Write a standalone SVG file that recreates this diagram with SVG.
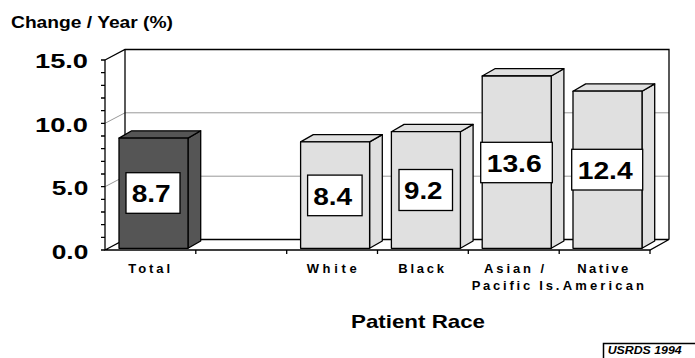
<svg xmlns="http://www.w3.org/2000/svg" width="695" height="358" viewBox="0 0 695 358">
<style>
text{font-family:"Liberation Sans",Arial,sans-serif;font-weight:bold;fill:#000}
.ax{stroke:#000;stroke-width:1.3;fill:none}
.grid{stroke:#999;stroke-width:1;fill:none}
.dk{fill:#555;stroke:#000;stroke-width:1.3;stroke-linejoin:round}
.lt{fill:#e0e0e0;stroke:#000;stroke-width:1.3;stroke-linejoin:round}
.box{fill:#fff;stroke:#000;stroke-width:1.3}
.val{font-size:24px}
.yl{font-size:21px}
.cat{font-size:13px}
</style>
<rect width="695" height="358" fill="#fff"/>
<text x="11" y="27.7" font-size="16" textLength="162" lengthAdjust="spacingAndGlyphs">Change / Year (%)</text>
<g id="axes">
<polygon points="105,250 125,239.5 669,239.5 650,250" fill="#fff" stroke="none"/>
<line class="grid" x1="105" y1="123.3" x2="125" y2="112.8"/>
<line class="grid" x1="125" y1="112.8" x2="669" y2="112.8"/>
<line class="grid" x1="105" y1="186.7" x2="125" y2="176.2"/>
<line class="grid" x1="125" y1="176.2" x2="669" y2="176.2"/>
<polyline class="ax" points="105,60 125,49.5 669,49.5 669,239.5"/>
<line class="ax" x1="125" y1="49.5" x2="125" y2="239.5"/>
<polyline class="ax" points="105,250 125,239.5 669,239.5 650,250 105,250 105,60"/>
<path class="ax" d="M101,60H105M101,72.7H105M101,85.3H105M101,98H105M101,110.7H105M101,123.3H105M101,136H105M101,148.7H105M101,161.3H105M101,174H105M101,186.7H105M101,199.3H105M101,212H105M101,224.7H105M101,237.3H105M101,250H105"/>
<path class="ax" d="M195.8,250V254M286.7,250V254M377.5,250V254M468.3,250V254M559.2,250V254M650,250V254"/>
<text class="yl" x="35" y="68.3" textLength="53" lengthAdjust="spacingAndGlyphs">15.0</text>
<text class="yl" x="35" y="131.7" textLength="53" lengthAdjust="spacingAndGlyphs">10.0</text>
<text class="yl" x="51.7" y="195.1" textLength="36.6" lengthAdjust="spacingAndGlyphs">5.0</text>
<text class="yl" x="51.7" y="258.5" textLength="36.6" lengthAdjust="spacingAndGlyphs">0.0</text>
</g>
<g id="bar-total">
<polygon class="dk" points="188,138.1 200.7,130.8 200.7,241 188,248.3"/>
<polygon class="dk" points="119,138.1 131.7,130.8 200.7,130.8 188,138.1"/>
<rect class="dk" x="119" y="138.1" width="69" height="110.2"/>
<rect class="box" x="126" y="172.7" width="54" height="40.6"/>
<text class="val" x="131.7" y="202.3" textLength="39" lengthAdjust="spacingAndGlyphs">8.7</text>
<text class="cat" x="128.3" y="272.7" textLength="41.7" lengthAdjust="spacing">Total</text>
</g>
<g id="bar-white">
<polygon class="lt" points="369.6,141.9 382.3,134.6 382.3,241 369.6,248.3"/>
<polygon class="lt" points="300.6,141.9 313.3,134.6 382.3,134.6 369.6,141.9"/>
<rect class="lt" x="300.6" y="141.9" width="69" height="106.4"/>
<rect class="box" x="307.6" y="175.1" width="54.5" height="40.6"/>
<text class="val" x="313.2" y="204.7" textLength="39" lengthAdjust="spacingAndGlyphs">8.4</text>
<text class="cat" x="306.7" y="272.7" textLength="50" lengthAdjust="spacing">White</text>
</g>
<g id="bar-black">
<polygon class="lt" points="460.4,131.7 473.1,124.4 473.1,241 460.4,248.3"/>
<polygon class="lt" points="391.4,131.7 404.1,124.4 473.1,124.4 460.4,131.7"/>
<rect class="lt" x="391.4" y="131.7" width="69" height="116.6"/>
<rect class="box" x="399" y="169.5" width="53.5" height="41"/>
<text class="val" x="404" y="199" textLength="38.5" lengthAdjust="spacingAndGlyphs">9.2</text>
<text class="cat" x="398.3" y="272.7" textLength="45.7" lengthAdjust="spacing">Black</text>
</g>
<g id="bar-asian">
<polygon class="lt" points="551.2,76 563.9,68.7 563.9,241 551.2,248.3"/>
<polygon class="lt" points="482.2,76 494.9,68.7 563.9,68.7 551.2,76"/>
<rect class="lt" x="482.2" y="76" width="69" height="172.3"/>
<rect class="box" x="480.7" y="142.3" width="71.6" height="40.4"/>
<text class="val" x="486.7" y="171.7" textLength="55" lengthAdjust="spacingAndGlyphs">13.6</text>
<text class="cat" x="484" y="272.7" textLength="60" lengthAdjust="spacing">Asian /</text>
<text class="cat" x="471.7" y="290" textLength="87.6" lengthAdjust="spacing">Pacific Is.</text>
</g>
<g id="bar-native">
<polygon class="lt" points="642,91.2 654.7,83.9 654.7,241 642,248.3"/>
<polygon class="lt" points="573,91.2 585.7,83.9 654.7,83.9 642,91.2"/>
<rect class="lt" x="573" y="91.2" width="69" height="157.1"/>
<rect class="box" x="571.7" y="149.3" width="71" height="40.7"/>
<text class="val" x="577.7" y="178.8" textLength="55" lengthAdjust="spacingAndGlyphs">12.4</text>
<text class="cat" x="577.3" y="272.7" textLength="51" lengthAdjust="spacing">Native</text>
<text class="cat" x="562.7" y="290" textLength="81.3" lengthAdjust="spacing">American</text>
</g>
<text x="351" y="327.5" font-size="18.5" textLength="134" lengthAdjust="spacingAndGlyphs">Patient Race</text>
<g id="source">
<rect x="603.5" y="343.5" width="100" height="20" fill="#fff" stroke="#000" stroke-width="1.5"/>
<text x="607.7" y="354.3" font-size="10.5" font-style="italic" textLength="74" lengthAdjust="spacingAndGlyphs">USRDS 1994</text>
</g>
</svg>
